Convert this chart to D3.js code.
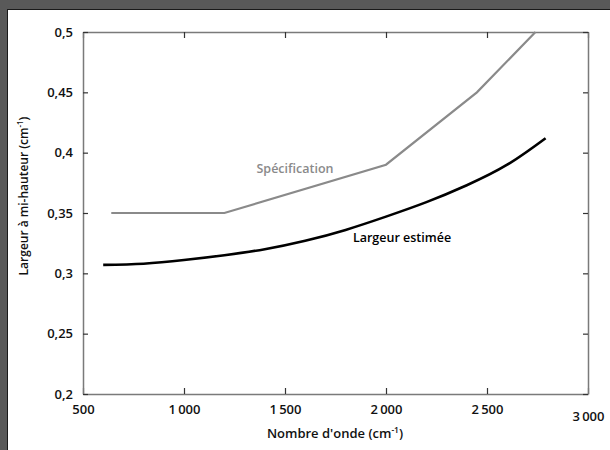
<!DOCTYPE html>
<html><head><meta charset="utf-8">
<script src="https://cdn.jsdelivr.net/npm/d3@7"></script>
<style>
html,body{margin:0;padding:0;background:#595959;}
svg{display:block;}
</style></head>
<body>
<svg id="c" width="610" height="450"></svg>
<script>
// ---- data ----
const estWave = [600, 800, 1000, 1200, 1400, 1600, 1800, 2000, 2200, 2400, 2600, 2790];
const estWidth = [0.307, 0.308, 0.311, 0.315, 0.320, 0.327, 0.336, 0.347, 0.359, 0.373, 0.390, 0.412];
const specWave = [640, 1200, 2000, 2450, 2740];
const specWidth = [0.35, 0.35, 0.39, 0.45, 0.50];
const xTicks = [500, 1000, 1500, 2000, 2500, 3000];
const xTickLabels = ["500", "1\u2009000", "1\u2009500", "2\u2009000", "2\u2009500", "3\u2009000"];
const yTicks = [0.2, 0.25, 0.3, 0.35, 0.4, 0.45, 0.5];
const yTickLabels = ["0,2", "0,25", "0,3", "0,35", "0,4", "0,45", "0,5"];

const svg = d3.select("#c");
// panel
svg.append("rect").attr("x", 7.5).attr("y", 9.5).attr("width", 620).attr("height", 460)
  .attr("fill", "#fff").attr("stroke", "#1a1a1a").attr("stroke-width", 1);

const L = 83, R = 588, T = 32, B = 394;
const x = d3.scaleLinear().domain([500, 3000]).range([L, R]);
const y = d3.scaleLinear().domain([0.2, 0.5]).range([B, T]);

const tickFont = "600 13px 'Open Sans', sans-serif";
const axisColor = "#7a7a7a";

function styleAxis(g) {
  g.select(".domain").attr("stroke", axisColor).attr("stroke-width", 1.5);
  g.selectAll(".tick line").attr("stroke", "#333").attr("stroke-width", 1.2);
  g.selectAll("text").style("font", tickFont).attr("fill", "#111");
}

// bottom axis
const gb = svg.append("g").attr("transform", `translate(0,${B})`)
  .call(d3.axisBottom(x).tickValues(xTicks).tickSize(-6).tickSizeOuter(0).tickPadding(11)
    .tickFormat((d, i) => xTickLabels[i]));
styleAxis(gb);
gb.selectAll(".tick").filter(d => d === 3000).select("text").attr("dy", "1.25em");
// top axis
const gt = svg.append("g").attr("transform", `translate(0,${T})`)
  .call(d3.axisTop(x).tickValues(xTicks).tickSize(-6).tickSizeOuter(0).tickFormat(""));
styleAxis(gt);
// left axis
const gl = svg.append("g").attr("transform", `translate(${L},0)`)
  .call(d3.axisLeft(y).tickValues(yTicks).tickSize(-5).tickSizeOuter(0).tickPadding(10)
    .tickFormat((d, i) => yTickLabels[i]));
styleAxis(gl);
// right axis
const gr = svg.append("g").attr("transform", `translate(${R},0)`)
  .call(d3.axisRight(y).tickValues(yTicks).tickSize(-5).tickSizeOuter(0).tickFormat(""));
styleAxis(gr);

// lines
const specData = specWave.map((w, i) => [w, specWidth[i]]);
const estData = estWave.map((w, i) => [w, estWidth[i]]);
svg.append("path").datum(specData)
  .attr("d", d3.line().x(d => x(d[0])).y(d => y(d[1])))
  .attr("fill", "none").attr("stroke", "#8a8a8a").attr("stroke-width", 2.2);
svg.append("path").datum(estData)
  .attr("d", d3.line().x(d => x(d[0])).y(d => y(d[1])).curve(d3.curveNatural))
  .attr("fill", "none").attr("stroke", "#000").attr("stroke-width", 2.6);

// annotations
const annFont = "600 12.5px 'Open Sans', sans-serif";
svg.append("text").attr("x", 295).attr("y", 169).attr("dy", "0.35em")
  .attr("text-anchor", "middle").style("font", annFont).attr("fill", "#8a8a8a")
  .text("Spécification");
svg.append("text").attr("x", 402).attr("y", 238).attr("dy", "0.35em")
  .attr("text-anchor", "middle").style("font", annFont).attr("fill", "#000")
  .text("Largeur estimée");

// axis titles
const xt = svg.append("text").attr("x", 335).attr("y", 438).attr("text-anchor", "middle")
  .style("font", "600 13px 'Open Sans', sans-serif").attr("fill", "#111");
xt.append("tspan").text("Nombre d'onde (cm");
xt.append("tspan").attr("dy", -5).style("font-size", "8.5px").text("-1");
xt.append("tspan").attr("dy", 5).text(")");

const yt = svg.append("text").attr("transform", "translate(28,196) rotate(-90)")
  .attr("text-anchor", "middle").style("font", "600 12px 'Open Sans', sans-serif").attr("fill", "#111");
yt.append("tspan").text("Largeur à mi-hauteur (cm");
yt.append("tspan").attr("dy", -5).style("font-size", "8px").text("-1");
yt.append("tspan").attr("dy", 5).text(")");
</script>
</body></html>
